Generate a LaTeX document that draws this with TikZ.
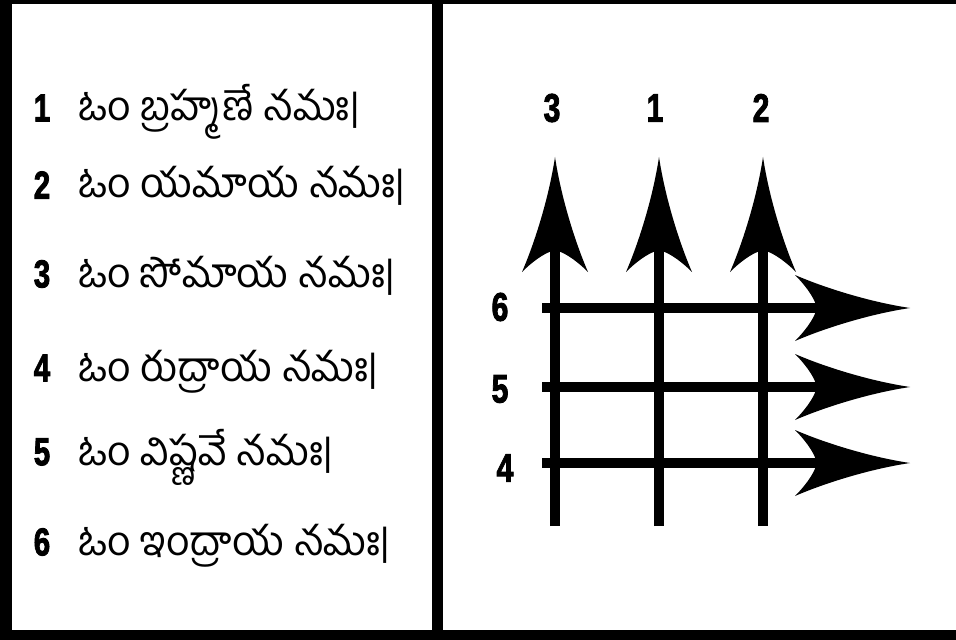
\documentclass[tikz,border=0pt]{standalone}
\usepackage{fontspec}
\newfontfamily\telugu[Script=Telugu]{Hind Guntur}
\newfontfamily\numfont[BoldFeatures={FakeBold=2.5}]{Liberation Sans}
\tikzset{
  frame/.style={fill=black},
  shaft/.style={line width=10.5bp, draw=black, line cap=butt},
  numlab/.style={inner sep=0pt, font=\numfont\bfseries\fontsize{40}{40}\selectfont, xscale=0.76},
  leftnum/.style={inner sep=0pt, font=\numfont\bfseries\fontsize{39}{39}\selectfont, xscale=0.76},
  mantra/.style={inner sep=0pt, anchor=base west, font=\telugu\fontsize{41}{41}\selectfont},
  headup/.pic={\fill[black] (0,0) .. controls (6,40) and (20,85) .. (33,115)
      .. controls (25,107) and (12,96) .. (0,93)
      .. controls (-12,96) and (-25,107) .. (-33,115)
      .. controls (-20,85) and (-6,40) .. (0,0) -- cycle;},
  headright/.pic={\fill[black] (0,0) .. controls (-40,6) and (-85,20) .. (-115,33)
      .. controls (-107,25) and (-96,12) .. (-93,0)
      .. controls (-96,-12) and (-107,-25) .. (-115,-33)
      .. controls (-85,-20) and (-40,-6) .. (0,0) -- cycle;}
}
\begin{document}
\begin{tikzpicture}[x=1bp,y=-1bp]
\useasboundingbox (0,0) rectangle (956,640);
\fill[white] (-10,-10) rectangle (966,650);
% frame
\fill[frame] (0,0) rectangle (956,4);
\fill[frame] (0,630) rectangle (956,640);
\fill[frame] (0,0) rectangle (12,640);
\fill[frame] (432,0) rectangle (443,640);
% left panel
\node[leftnum] (n1) at (42,108) {1};
\node[leftnum] (n2) at (42,185) {2};
\node[leftnum] (n3) at (42,274) {3};
\node[leftnum] (n4) at (42,368) {4};
\node[leftnum] (n5) at (42,452) {5};
\node[leftnum] (n6) at (42,542) {6};
\node[mantra] (m1) at (78,121) {ఓం బ్రహ్మణే నమః|};
\node[mantra] (m2) at (78,198) {ఓం యమాయ నమః|};
\node[mantra] (m3) at (78,287) {ఓం సోమాయ నమః|};
\node[mantra] (m4) at (78,381) {ఓం రుద్రాయ నమః|};
\node[mantra] (m5) at (78,465) {ఓం విష్ణవే నమః|};
\node[mantra] (m6) at (78,555) {ఓం ఇంద్రాయ నమః|};
% right panel coordinates
\coordinate (v3b) at (555,526); \coordinate (v3n) at (555,250); \coordinate (v3t) at (555,157);
\coordinate (v1b) at (659,526); \coordinate (v1n) at (659,250); \coordinate (v1t) at (659,157);
\coordinate (v2b) at (763,526); \coordinate (v2n) at (763,250); \coordinate (v2t) at (763,157);
\coordinate (h6b) at (542,308); \coordinate (h6n) at (817,308); \coordinate (h6t) at (910,308);
\coordinate (h5b) at (542,387); \coordinate (h5n) at (817,387); \coordinate (h5t) at (910,387);
\coordinate (h4b) at (542,463); \coordinate (h4n) at (817,463); \coordinate (h4t) at (910,463);
\foreach \v in {v3,v1,v2} {
  \draw[shaft] (\v b) -- (\v n);
  \pic at (\v t) {headup};
}
\foreach \h in {h6,h5,h4} {
  \draw[shaft] (\h b) -- (\h n);
  \pic at (\h t) {headright};
}
\node[numlab] (l3) at (552,108) {3};
\node[numlab] (l1) at (655,108) {1};
\node[numlab] (l2) at (761,108) {2};
\node[numlab] (l6) at (500,307) {6};
\node[numlab] (l5) at (500,389) {5};
\node[numlab] (l4) at (505,468) {4};
\end{tikzpicture}
\end{document}
